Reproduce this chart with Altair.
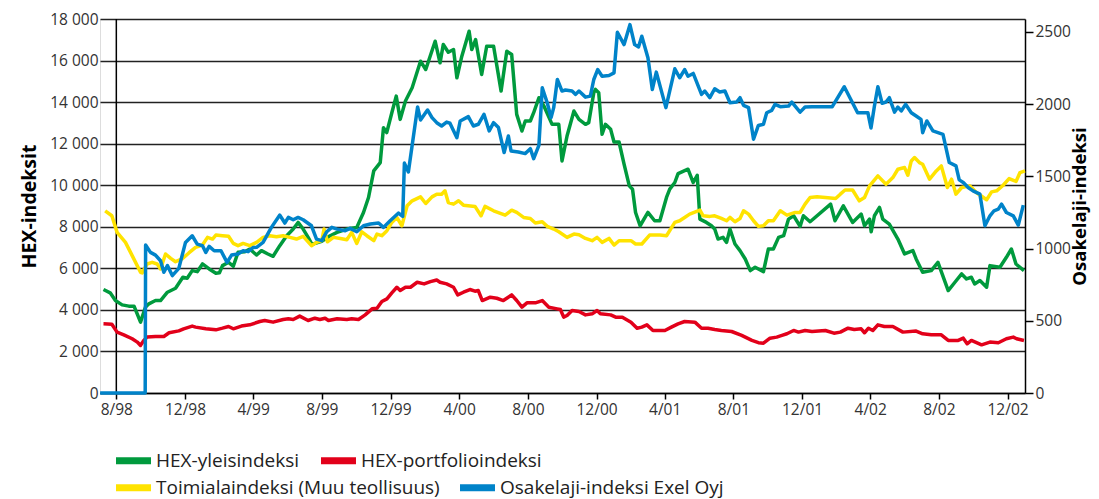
import altair as alt
import pandas as pd

NAMES = ["HEX-yleisindeksi", "HEX-portfolioindeksi",
         "Toimialaindeksi (Muu teollisuus)", "Osakelaji-indeksi Exel Oyj"]
COLORS = ["#009a3d", "#e2001a", "#ffe300", "#0083c9"]

# (decimal year, value) – left axis (HEX-indeksit)
green = [
    (1998.522, 4980), (1998.554, 4820), (1998.579, 4450), (1998.611, 4240), (1998.643, 4180),
    (1998.668, 4180), (1998.700, 3410), (1998.724, 4130), (1998.741, 4290), (1998.773, 4450),
    (1998.797, 4450), (1998.830, 4850), (1998.870, 5040), (1998.906, 5570), (1998.927, 5520),
    (1998.951, 5890), (1998.975, 5840), (1999.000, 6210), (1999.032, 5970), (1999.064, 5760),
    (1999.081, 5790), (1999.097, 6130), (1999.129, 6290), (1999.154, 6100), (1999.178, 6770),
    (1999.210, 6800), (1999.234, 6930), (1999.267, 6640), (1999.291, 6850), (1999.323, 6690),
    (1999.348, 6580), (1999.380, 7090), (1999.413, 7570), (1999.445, 7890), (1999.469, 8210),
    (1999.494, 7890), (1999.518, 7490), (1999.536, 7150), (1999.583, 7300), (1999.623, 7570),
    (1999.656, 7730), (1999.704, 7890), (1999.753, 7970), (1999.785, 8690), (1999.809, 9410),
    (1999.834, 10690), (1999.866, 11090), (1999.882, 12770), (1999.898, 12530), (1999.923, 13490),
    (1999.944, 14290), (1999.963, 13170), (1999.988, 14050), (2000.020, 14690), (2000.060, 15970),
    (2000.085, 15570), (2000.133, 16930), (2000.158, 15890), (2000.174, 16770), (2000.198, 16400),
    (2000.223, 16530), (2000.239, 15170), (2000.263, 16210), (2000.299, 17410), (2000.312, 16530),
    (2000.331, 17010), (2000.360, 15330), (2000.384, 16690), (2000.417, 16690), (2000.454, 14530),
    (2000.482, 16450), (2000.506, 16290), (2000.530, 13410), (2000.555, 12610), (2000.571, 13090),
    (2000.595, 13090), (2000.611, 13490), (2000.636, 14210), (2000.660, 13810), (2000.700, 12930),
    (2000.733, 12930), (2000.749, 11170), (2000.773, 12370), (2000.806, 13570), (2000.830, 13170),
    (2000.862, 12930), (2000.878, 13010), (2000.903, 14450), (2000.911, 14610), (2000.927, 14450),
    (2000.943, 12450), (2000.959, 12930), (2000.984, 12690), (2001.000, 12080), (2001.024, 12080),
    (2001.048, 11010), (2001.073, 9970), (2001.089, 9810), (2001.105, 8690), (2001.129, 8050),
    (2001.170, 8690), (2001.202, 8290), (2001.227, 8290), (2001.259, 9410), (2001.275, 9810),
    (2001.300, 10130), (2001.316, 10560), (2001.364, 10770), (2001.389, 10130), (2001.408, 10480),
    (2001.421, 8370), (2001.453, 8210), (2001.478, 8050), (2001.494, 7890), (2001.510, 7410),
    (2001.534, 7490), (2001.551, 7250), (2001.567, 7890), (2001.591, 7170), (2001.615, 6850),
    (2001.640, 6450), (2001.664, 5890), (2001.688, 6050), (2001.729, 5840), (2001.753, 6930),
    (2001.777, 6930), (2001.802, 7490), (2001.826, 7570), (2001.850, 8370), (2001.875, 8530),
    (2001.907, 8020), (2001.923, 8530), (2001.955, 8240), (2002.053, 9090), (2002.074, 8290),
    (2002.117, 9010), (2002.166, 8210), (2002.207, 8610), (2002.223, 8050), (2002.247, 8370),
    (2002.255, 7760), (2002.271, 8530), (2002.296, 8930), (2002.312, 8370), (2002.344, 8130),
    (2002.385, 7410), (2002.417, 6690), (2002.458, 6850), (2002.474, 6450), (2002.506, 5810),
    (2002.547, 5890), (2002.579, 6290), (2002.628, 4930), (2002.660, 5330), (2002.693, 5730),
    (2002.717, 5490), (2002.741, 5570), (2002.757, 5250), (2002.782, 5410), (2002.814, 5090),
    (2002.830, 6130), (2002.879, 6050), (2002.911, 6530), (2002.935, 6930), (2002.957, 6210),
    (2002.995, 5890),
]

red = [
    (1998.522, 3330), (1998.562, 3310), (1998.587, 2930), (1998.619, 2800), (1998.659, 2610),
    (1998.684, 2450), (1998.700, 2290), (1998.716, 2530), (1998.732, 2690), (1998.773, 2720),
    (1998.813, 2720), (1998.838, 2900), (1998.886, 2990), (1998.910, 3090), (1998.951, 3220),
    (1998.967, 3170), (1999.016, 3090), (1999.064, 3040), (1999.097, 3120), (1999.129, 3200),
    (1999.154, 3090), (1999.194, 3220), (1999.234, 3280), (1999.283, 3440), (1999.307, 3490),
    (1999.348, 3410), (1999.396, 3540), (1999.421, 3570), (1999.445, 3540), (1999.477, 3700),
    (1999.518, 3490), (1999.550, 3600), (1999.574, 3540), (1999.599, 3600), (1999.615, 3490),
    (1999.656, 3570), (1999.704, 3540), (1999.728, 3570), (1999.761, 3540), (1999.793, 3760),
    (1999.826, 4050), (1999.850, 4080), (1999.874, 4400), (1999.899, 4530), (1999.923, 4820),
    (1999.947, 5090), (1999.963, 4930), (1999.988, 5090), (2000.012, 5090), (2000.044, 5330),
    (2000.077, 5250), (2000.109, 5360), (2000.141, 5440), (2000.158, 5330), (2000.190, 5250),
    (2000.223, 5090), (2000.243, 4720), (2000.271, 4850), (2000.303, 4980), (2000.328, 4900),
    (2000.344, 4930), (2000.363, 4450), (2000.401, 4610), (2000.433, 4560), (2000.465, 4450),
    (2000.506, 4720), (2000.530, 4450), (2000.555, 4130), (2000.579, 4340), (2000.619, 4340),
    (2000.652, 4450), (2000.684, 4130), (2000.725, 4050), (2000.741, 4020), (2000.757, 3650),
    (2000.773, 3730), (2000.797, 3970), (2000.830, 3920), (2000.862, 3760), (2000.895, 3810),
    (2000.919, 3970), (2000.935, 3810), (2000.984, 3760), (2001.008, 3650), (2001.040, 3650),
    (2001.081, 3410), (2001.113, 3120), (2001.138, 3170), (2001.165, 3280), (2001.194, 3010),
    (2001.227, 3010), (2001.251, 3010), (2001.283, 3170), (2001.316, 3330), (2001.348, 3440),
    (2001.397, 3410), (2001.429, 3120), (2001.461, 3120), (2001.494, 3060), (2001.526, 3010),
    (2001.575, 2960), (2001.623, 2770), (2001.672, 2530), (2001.704, 2420), (2001.729, 2400),
    (2001.761, 2640), (2001.793, 2690), (2001.818, 2770), (2001.842, 2850), (2001.875, 3010),
    (2001.899, 2930), (2001.931, 3010), (2001.964, 2960), (2002.028, 3010), (2002.069, 2880),
    (2002.101, 2930), (2002.142, 3120), (2002.174, 3060), (2002.207, 3090), (2002.223, 2900),
    (2002.242, 3120), (2002.263, 3010), (2002.288, 3280), (2002.320, 3200), (2002.361, 3200),
    (2002.409, 2930), (2002.474, 2980), (2002.506, 2850), (2002.547, 2800), (2002.595, 2800),
    (2002.628, 2530), (2002.676, 2530), (2002.701, 2640), (2002.720, 2370), (2002.741, 2530),
    (2002.790, 2320), (2002.830, 2450), (2002.871, 2420), (2002.911, 2610), (2002.944, 2690),
    (2002.960, 2610), (2002.995, 2530),
]

yellow = [
    (1998.530, 8770), (1998.562, 8530), (1998.587, 7730), (1998.627, 7250), (1998.659, 6610),
    (1998.700, 5810), (1998.708, 5780), (1998.732, 6210), (1998.757, 6290), (1998.781, 6210),
    (1998.797, 5970), (1998.821, 6690), (1998.846, 6480), (1998.870, 6320), (1998.902, 6450),
    (1998.935, 6740), (1998.967, 7010), (1999.000, 7120), (1999.024, 7490), (1999.048, 7410),
    (1999.064, 7600), (1999.097, 7570), (1999.129, 7540), (1999.154, 7200), (1999.178, 7090),
    (1999.202, 7200), (1999.234, 7090), (1999.267, 7250), (1999.299, 7490), (1999.332, 7570),
    (1999.364, 7520), (1999.396, 7570), (1999.429, 7490), (1999.461, 7410), (1999.494, 7540),
    (1999.534, 7090), (1999.558, 7250), (1999.583, 7330), (1999.594, 7890), (1999.610, 7280),
    (1999.639, 7490), (1999.672, 7440), (1999.704, 7380), (1999.728, 7730), (1999.753, 7200),
    (1999.777, 7760), (1999.801, 7570), (1999.834, 7330), (1999.850, 7650), (1999.874, 7570),
    (1999.899, 7810), (1999.923, 8210), (1999.947, 8450), (1999.971, 8050), (1999.996, 9010),
    (2000.020, 9250), (2000.060, 9440), (2000.085, 9120), (2000.117, 9440), (2000.141, 9570),
    (2000.166, 9570), (2000.182, 9730), (2000.198, 9170), (2000.223, 9090), (2000.247, 9250),
    (2000.271, 9040), (2000.328, 8980), (2000.357, 8530), (2000.376, 8980), (2000.417, 8770),
    (2000.474, 8560), (2000.506, 8800), (2000.530, 8690), (2000.563, 8450), (2000.595, 8400),
    (2000.619, 8180), (2000.652, 8240), (2000.676, 8020), (2000.708, 7890), (2000.733, 7760),
    (2000.773, 7490), (2000.806, 7650), (2000.830, 7620), (2000.862, 7440), (2000.895, 7330),
    (2000.919, 7490), (2000.943, 7250), (2000.976, 7440), (2001.000, 7120), (2001.024, 7330),
    (2001.081, 7330), (2001.105, 7170), (2001.138, 7170), (2001.178, 7600), (2001.227, 7600),
    (2001.259, 7570), (2001.300, 8210), (2001.324, 8290), (2001.348, 8450), (2001.372, 8610),
    (2001.421, 8800), (2001.437, 8530), (2001.470, 8500), (2001.494, 8530), (2001.526, 8400),
    (2001.551, 8290), (2001.567, 8450), (2001.591, 8240), (2001.615, 8400), (2001.632, 8770),
    (2001.656, 8610), (2001.680, 8290), (2001.704, 8020), (2001.729, 8050), (2001.753, 8290),
    (2001.777, 8290), (2001.810, 8770), (2001.842, 8560), (2001.883, 8690), (2001.907, 8690),
    (2001.931, 9090), (2001.955, 9410), (2001.988, 9440), (2002.028, 9410), (2002.077, 9360),
    (2002.101, 9570), (2002.126, 9770), (2002.166, 9770), (2002.198, 9250), (2002.223, 9410),
    (2002.247, 9970), (2002.288, 10450), (2002.328, 10050), (2002.361, 10370), (2002.385, 10770),
    (2002.417, 10850), (2002.433, 10480), (2002.450, 11170), (2002.466, 11330), (2002.490, 11090),
    (2002.506, 11010), (2002.539, 10290), (2002.571, 10690), (2002.595, 10930), (2002.624, 9890),
    (2002.644, 10290), (2002.665, 9570), (2002.693, 9890), (2002.733, 9970), (2002.765, 9650),
    (2002.814, 9300), (2002.838, 9680), (2002.863, 9730), (2002.895, 10000), (2002.924, 10320),
    (2002.957, 10180), (2002.976, 10610), (2003.000, 10690),
]

# right axis (Osakelaji-indeksi)
blue = [
    (1998.506, 0), (1998.723, 0), (1998.725, 1025), (1998.749, 974), (1998.773, 955),
    (1998.797, 916), (1998.813, 836), (1998.830, 882), (1998.854, 813), (1998.886, 863),
    (1998.919, 1043), (1998.951, 1089), (1998.975, 1031), (1999.000, 1020), (1999.016, 974),
    (1999.032, 1015), (1999.056, 985), (1999.089, 985), (1999.121, 905), (1999.145, 955),
    (1999.178, 962), (1999.202, 985), (1999.226, 979), (1999.251, 1008), (1999.267, 1009),
    (1999.299, 1043), (1999.340, 1147), (1999.380, 1232), (1999.404, 1177), (1999.421, 1216),
    (1999.445, 1200), (1999.469, 1216), (1999.494, 1200), (1999.534, 1158), (1999.558, 1066),
    (1999.583, 1055), (1999.607, 1117), (1999.631, 1147), (1999.656, 1135), (1999.696, 1124),
    (1999.720, 1140), (1999.753, 1117), (1999.785, 1158), (1999.818, 1170), (1999.858, 1177),
    (1999.882, 1147), (1999.915, 1193), (1999.955, 1246), (1999.975, 1223), (1999.983, 1592),
    (2000.002, 1531), (2000.046, 1981), (2000.060, 1891), (2000.094, 1960), (2000.117, 1907),
    (2000.141, 1872), (2000.166, 1849), (2000.190, 1876), (2000.206, 1868), (2000.239, 1768),
    (2000.255, 1884), (2000.295, 1914), (2000.320, 1849), (2000.344, 1861), (2000.371, 1930),
    (2000.396, 1815), (2000.417, 1872), (2000.441, 1838), (2000.469, 1665), (2000.490, 1780),
    (2000.503, 1676), (2000.538, 1669), (2000.571, 1658), (2000.595, 1692), (2000.611, 1623),
    (2000.636, 1715), (2000.652, 2114), (2000.676, 2010), (2000.695, 1907), (2000.708, 1976),
    (2000.726, 2171), (2000.749, 2091), (2000.765, 2098), (2000.797, 2091), (2000.814, 2068),
    (2000.830, 2091), (2000.862, 2049), (2000.886, 2056), (2000.903, 2171), (2000.922, 2240),
    (2000.943, 2194), (2000.976, 2199), (2001.000, 2217), (2001.016, 2498), (2001.048, 2413),
    (2001.076, 2551), (2001.100, 2413), (2001.121, 2397), (2001.138, 2471), (2001.170, 2321),
    (2001.191, 2102), (2001.210, 2222), (2001.256, 1976), (2001.300, 2245), (2001.324, 2183),
    (2001.348, 2240), (2001.364, 2194), (2001.389, 2213), (2001.429, 2068), (2001.445, 2091),
    (2001.470, 2045), (2001.494, 2107), (2001.518, 2084), (2001.543, 2091), (2001.567, 2010),
    (2001.599, 2015), (2001.615, 2045), (2001.632, 1992), (2001.656, 1976), (2001.680, 1757),
    (2001.704, 1853), (2001.729, 1861), (2001.745, 1941), (2001.769, 1957), (2001.785, 1999),
    (2001.810, 1983), (2001.850, 1987), (2001.866, 2015), (2001.907, 1945), (2001.931, 1980),
    (2001.964, 1983), (2002.061, 1983), (2002.122, 2121), (2002.190, 1941), (2002.239, 1941),
    (2002.254, 1835), (2002.271, 1987), (2002.288, 2121), (2002.309, 2006), (2002.328, 2015),
    (2002.344, 2045), (2002.369, 1945), (2002.385, 1980), (2002.401, 1953), (2002.422, 1999),
    (2002.450, 1941), (2002.474, 1918), (2002.498, 1895), (2002.506, 1803), (2002.526, 1884),
    (2002.555, 1815), (2002.579, 1803), (2002.603, 1791), (2002.633, 1596), (2002.665, 1573),
    (2002.681, 1476), (2002.701, 1458), (2002.725, 1423), (2002.749, 1400), (2002.782, 1377),
    (2002.806, 1158), (2002.830, 1227), (2002.850, 1262), (2002.871, 1273), (2002.887, 1308),
    (2002.911, 1250), (2002.944, 1227), (2002.968, 1163), (2002.992, 1301),
]

LEFT_TICKS = list(range(0, 18001, 2000))
RIGHT_TICKS = [0, 500, 1000, 1500, 2000, 2500]
X_TICKS = [(1998 + (7 + 4 * k) // 12, (7 + 4 * k) % 12 + 1) for k in range(14)]  # 8/98 ... 12/02
AXIS_CROSS = (1998, 8)


def to_date(t):
    y = int(t)
    m = (t - y) * 12
    mi = int(m)
    d0 = pd.Timestamp(year=y, month=mi + 1, day=1)
    d1 = d0 + pd.offsets.MonthBegin(1)
    return (d0 + (d1 - d0) * (m - mi)).strftime("%Y-%m-%dT%H:%M:%S")


def frame(name, ser):
    return pd.DataFrame({"series": name, "date": [to_date(t) for t, _ in ser],
                         "value": [v for _, v in ser]})


row1_df = pd.concat([frame(NAMES[0], green), frame(NAMES[1], red)], ignore_index=True)
yellow_df = frame(NAMES[2], yellow)
blue_df = frame(NAMES[3], blue)
cross_df = pd.DataFrame({"date": [f"{AXIS_CROSS[0]}-{AXIS_CROSS[1]:02d}-01T00:00:00"]})

FONT = "Open Sans"

x_enc = alt.X(
    "date:T",
    scale=alt.Scale(domain=[alt.DateTime(year=1998, month=7, date=3),
                            alt.DateTime(year=2003, month=1, date=1)]),
    axis=alt.Axis(
        values=[alt.DateTime(year=y, month=m, date=1) for y, m in X_TICKS],
        format="%-m/%y", title=None, grid=False,
        labelFont=FONT, labelFontSize=15.5, labelColor="#333", labelPadding=3,
        labelOverlap=False,
        tickSize=6, tickColor="black", tickWidth=1.5,
        domainColor="black", domainWidth=1.5,
    ),
)


def make_legend(y, gap):
    return alt.Legend(
        title=None, orient="none", direction="horizontal", legendX=21, legendY=y,
        symbolType="M-2,0L2,0", symbolSize=306, symbolStrokeWidth=7,
        labelFont=FONT, labelFontSize=19, labelColor="#222", labelLimit=600,
        labelOffset=10, columnPadding=gap, padding=0,
    )


stroke_enc = alt.Stroke("series:N", scale=alt.Scale(domain=NAMES[:2], range=COLORS[:2]),
                        legend=make_legend(429, 7))
color_enc = alt.Color("series:N", scale=alt.Scale(domain=NAMES[2:], range=COLORS[2:]),
                      legend=make_legend(456, 6))

left_axis = alt.Axis(values=LEFT_TICKS, title="HEX-indeksit",
                     labelExpr="replace(format(datum.value, ','), ',', ' ')",
                     labelFont=FONT, labelFontSize=15.5, labelColor="#333",
                     labelPadding=2, ticks=False, domain=False,
                     grid=True, gridColor="#222", gridWidth=1.5,
                     titleFont=FONT, titleFontSize=19.5, titleFontWeight="bold",
                     titleColor="black", titlePadding=10)
left_y = alt.Y("value:Q", scale=alt.Scale(domain=[0, 18000], nice=False), axis=left_axis)

cross = alt.Chart(cross_df).mark_rule(color="black", strokeWidth=1.5).encode(x="date:T")

row1 = alt.Chart(row1_df).mark_line(strokeWidth=3.5, strokeJoin="round").encode(
    x=x_enc, y=left_y, stroke=stroke_enc, order=alt.Order("date:T"),
)
yel = alt.Chart(yellow_df).mark_line(strokeWidth=3.5, strokeJoin="round").encode(
    x=x_enc, y=left_y, color=color_enc, order=alt.Order("date:T"),
)
left = alt.layer(cross, row1, yel)

right = alt.Chart(blue_df).mark_line(strokeWidth=3.5, strokeJoin="round").encode(
    x=x_enc,
    y=alt.Y("value:Q", scale=alt.Scale(domain=[0, 2590], nice=False),
            axis=alt.Axis(orient="right", values=RIGHT_TICKS, title="Osakelaji-indeksi",
                          format="d", labelFont=FONT, labelFontSize=15.5, labelColor="#333",
                          labelPadding=2, tickSize=8, tickColor="black", tickWidth=1.5,
                          domain=True, domainColor="black", domainWidth=1.5, grid=False,
                          titleFont=FONT, titleFontSize=18.5, titleFontWeight="bold",
                          titleColor="black", titleAngle=270, titleBaseline="middle",
                          titleAlign="center", titleX=54, titleY=187)),
    color=color_enc,
    order=alt.Order("date:T"),
)

chart = alt.layer(left, right).resolve_scale(y="independent").properties(
    width=925, height=374,
    padding={"left": 92, "top": 11, "right": 66, "bottom": 106},
    autosize=alt.AutoSizeParams(type="none"),
).configure_view(stroke=None).configure(font=FONT)

chart.save("out.html", embed_options={"renderer": "svg", "actions": False})
